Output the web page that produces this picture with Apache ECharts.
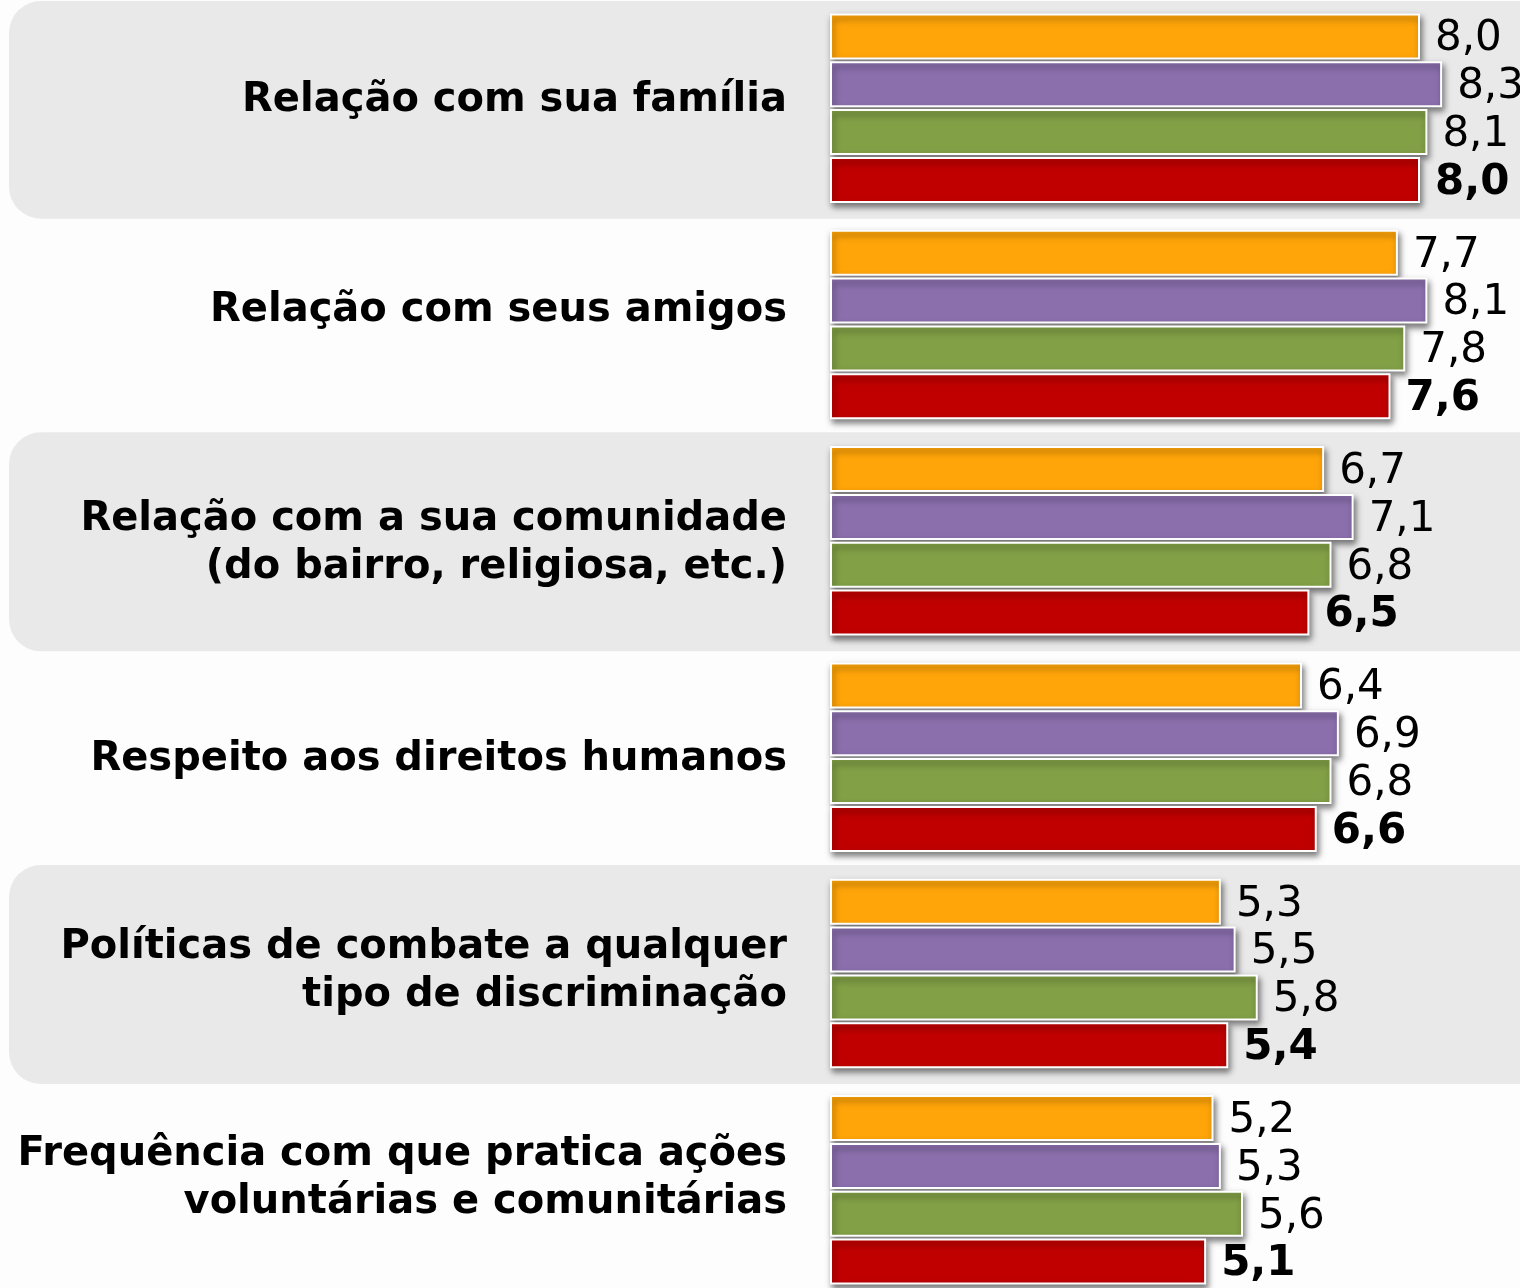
<!DOCTYPE html>
<html lang="pt">
<head>
    <meta charset="UTF-8">
    <title>Avaliação</title>
    <style>
        html, body { margin: 0; padding: 0; background: #fdfdfd; }
        #main { width: 1520px; height: 1288px; }
    </style>
</head>
<body>
<div id="main"></div>
<script src="https://cdn.jsdelivr.net/npm/echarts@6/dist/echarts.min.js"></script>
<script>
    var categorias = [
        'Relação com sua família',
        'Relação com seus amigos',
        'Relação com a sua comunidade\n(do bairro, religiosa, etc.)',
        'Respeito aos direitos humanos',
        'Políticas de combate a qualquer\ntipo de discriminação',
        'Frequência com que pratica ações\nvoluntárias e comunitárias'
    ];
    var laranja = [8.0, 7.7, 6.7, 6.4, 5.3, 5.2];
    var roxo = [8.3, 8.1, 7.1, 6.9, 5.5, 5.3];
    var verde = [8.1, 7.8, 6.8, 6.8, 5.8, 5.6];
    var vermelho = [8.0, 7.6, 6.5, 6.6, 5.4, 5.1];

    var cores = ['#ffa509', '#8b6fad', '#82a046', '#c00000'];
    var fonte = 'Verdana, "DejaVu Sans", sans-serif';

    // faixas cinzas alternadas atras das categorias
    var faixas = categorias.map(function (c, i) { return i % 2 === 0 ? 1 : '-'; });

    // o texto de algumas categorias fica um pouco fora do centro do grupo (px, + = pra cima)
    var desloc = [8, 14, -3, -2, 2, 11];
    var rich = {
        t: { color: '#000', fontFamily: fonte, fontWeight: 'bold', fontSize: 40, lineHeight: 48, align: 'right' }
    };
    desloc.forEach(function (d, i) {
        rich['s' + i] = { fontSize: 1, lineHeight: Math.max(Math.abs(d) * 2, 1) };
    });

    var chart = echarts.init(document.getElementById('main'));

    function serie(nome, dados, i, negrito) {
        return {
            name: nome,
            type: 'bar',
            xAxisIndex: 0,
            yAxisIndex: 0,
            data: dados,
            barWidth: 46,
            barGap: '4%',
            z: 3,
            itemStyle: {
                color: cores[i],
                borderColor: '#ffffff',
                borderWidth: 2,
                shadowColor: 'rgba(0,0,0,0.5)',
                shadowBlur: 6,
                shadowOffsetX: 2,
                shadowOffsetY: 4
            },
            label: {
                show: true,
                position: 'right',
                distance: 15,
                offset: [0, 3],
                color: '#000',
                fontFamily: fonte,
                fontSize: 42,
                fontWeight: negrito ? 'bold' : 'normal',
                formatter: function (p) { return p.value.toFixed(1).replace('.', ','); }
            }
        };
    }

    chart.setOption({
        animation: false,
        backgroundColor: '#fdfdfd',
        grid: [
            { left: 830, top: 0, width: 737.5, height: 1298, outerBoundsMode: 'none' },
            { left: 9, top: 1, width: 1700, height: 1298, outerBoundsMode: 'none' }
        ],
        xAxis: [
            { type: 'value', gridIndex: 0, min: 0, max: 10, show: false },
            { type: 'value', gridIndex: 1, min: 0, max: 1, show: false }
        ],
        yAxis: [
            {
                type: 'category',
                gridIndex: 0,
                inverse: true,
                data: categorias,
                axisLine: { show: false },
                axisTick: { show: false },
                axisLabel: {
                    margin: 43,
                    align: 'right',
                    formatter: function (v, i) {
                        var linhas = v.split('\n').map(function (l) { return '{t|' + l + '}'; });
                        var esp = '{s' + i + '| }';
                        if (desloc[i] > 0) linhas.push(esp);
                        else if (desloc[i] < 0) linhas.unshift(esp);
                        return linhas.join('\n');
                    },
                    rich: rich
                }
            },
            {
                type: 'category',
                gridIndex: 1,
                inverse: true,
                data: categorias,
                show: false
            }
        ],
        series: [
            {
                name: 'faixa',
                type: 'bar',
                xAxisIndex: 1,
                yAxisIndex: 1,
                data: faixas,
                barWidth: 219,
                z: 0,
                silent: true,
                itemStyle: { color: '#e9e9e9', borderRadius: [32, 0, 0, 32] }
            },
            serie('s1', laranja, 0, false),
            serie('s2', roxo, 1, false),
            serie('s3', verde, 2, false),
            serie('s4', vermelho, 3, true)
        ]
    });
</script>
</body>
</html>
